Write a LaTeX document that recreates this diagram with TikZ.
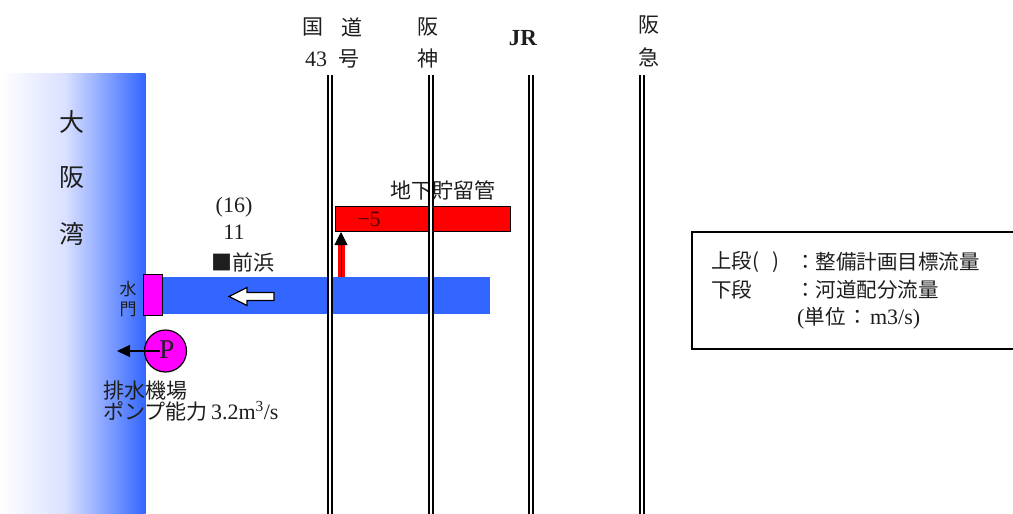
\documentclass[tikz,border=0pt]{standalone}
\usepackage{fontspec}
\setmainfont{Liberation Serif}
\newfontfamily\jp{Noto Sans CJK JP}
\usetikzlibrary{arrows.meta}
\definecolor{seablue}{RGB}{51,102,255}
\definecolor{seamid}{RGB}{218,225,255}
\definecolor{gatemag}{RGB}{255,0,255}
\definecolor{txt}{RGB}{30,30,30}
\begin{document}
\begin{tikzpicture}[x=1pt,y=-1pt,
  every node/.style={inner sep=0pt, text=txt},
  base/.style={font=\fontsize{22}{24}\selectfont},
  jpt/.style={font=\fontsize{21}{24}\selectfont\jp},
  leg/.style={font=\fontsize{20.5}{24}\selectfont\jp},
  big/.style={font=\fontsize{25}{27}\selectfont\jp},
  small/.style={font=\fontsize{17}{19}\selectfont\jp},
  rail/.style={draw=black, double=white, double distance=2pt, line width=1.8pt},
  outl/.style={draw=black, line width=1.2pt}]
\path[use as bounding box] (0,0) rectangle (1013,514);
\clip (0,0) rectangle (1013,514);

% sea
\shade[left color=white, right color=seamid] (0,73) rectangle (65,514);
\shade[left color=seamid, right color=seablue] (65,73) rectangle (145.5,514);
\node[big] (t1) at (72,122) {大};
\node[big] (t2) at (72,178) {阪};
\node[big] (t3) at (72,234) {湾};

% river
\node[fill=seablue, minimum width=330, minimum height=37, anchor=north west] (river) at (160,277) {};
% storage pipe
\node[fill=red, outl, minimum width=175, minimum height=25, anchor=north west] (pipe) at (334.5,206) {};
\node[base, text={rgb,255:red,80;green,0;blue,0}] (m5) at (369,219) {−5};
\node[jpt] (pipel) at (443,190) {地下貯留管};

% red arrow to pipe
\coordinate (ra0) at (341,277);
\coordinate (ra2) at (341,241);
\coordinate (ra1) at (341,232);
\draw[red, line width=7pt] (ra0) -- (ra2);
\draw[black, line width=1pt, -{Triangle[length=13pt,width=13pt]}] (ra0) -- (ra1);

% white flow arrow
\draw[black, line width=1.2pt, fill=white]
  (229,296.5) -- (247,287.5) -- (247,292.5) -- (274,292.5) -- (274,300.5) -- (247,300.5) -- (247,305.5) -- cycle;

% gate
\node[fill=gatemag, outl, minimum width=19, minimum height=41, anchor=north west] (gate) at (143,273.5) {};
\node[small] (g1) at (128,289) {水};
\node[small] (g2) at (128,309) {門};

% labels
\node[base] (q1) at (234,207) {(16)};
\node[base] (q2) at (234,232) {11};
\node[jpt] (mh) at (243,262) {■前浜};

% pump
\node[circle, fill=gatemag, outl, minimum size=42] (pump) at (165.5,351) {};
\node[font=\fontsize{27}{29}\selectfont] (pl) at (167,350) {P};
\coordinate (pin) at (160,351);
\coordinate (ptip) at (117,351);
\draw[black, line width=1.2pt, -{Triangle[length=13pt,width=12pt]}] (pin) -- (ptip);
\node[jpt, anchor=west] (ps1) at (103,391) {排水機場};
\node[jpt, anchor=west] (ps2) at (103,411) {ポンプ能力\,{\rmfamily\fontsize{22}{24}\selectfont 3.2m\textsuperscript{3}/s}};

% rails
\foreach \x/\n in {330/r1,431/r2,531/r3,642/r4}{
  \coordinate (\n t) at (\x,75);
  \coordinate (\n b) at (\x,516);
  \draw[rail] (\n t) -- (\n b);
}
\node[jpt] (h1) at (313,27) {国};
\node[jpt] (h2) at (352,27) {道};
\node[base] (h3) at (316,59) {43};
\node[jpt] (h4) at (349,59) {号};
\node[jpt] (h5) at (428,27) {阪};
\node[jpt] (h6) at (428,59) {神};
\node[font=\fontsize{23}{25}\selectfont\bfseries] (h7) at (523,38) {JR};
\node[jpt] (h8) at (649,25) {阪};
\node[jpt] (h9) at (649,57) {急};

% legend
\draw[black, line width=1.2pt] (692,232) rectangle (1030,349);
\node[leg, anchor=west] (l1) at (711,262) {上段(\hspace{13pt})};
\node[leg, anchor=west] (l2) at (795,262) {：整備計画目標流量};
\node[leg, anchor=west] (l3) at (711,290) {下段};
\node[leg, anchor=west] (l4) at (795,290) {：河道配分流量};
\node[base, anchor=west] (l5) at (797,318) {({\jp\fontsize{20.5}{24}\selectfont 単位\hspace{2pt}：\hspace{2pt}}m3/s)};
\end{tikzpicture}
\end{document}
